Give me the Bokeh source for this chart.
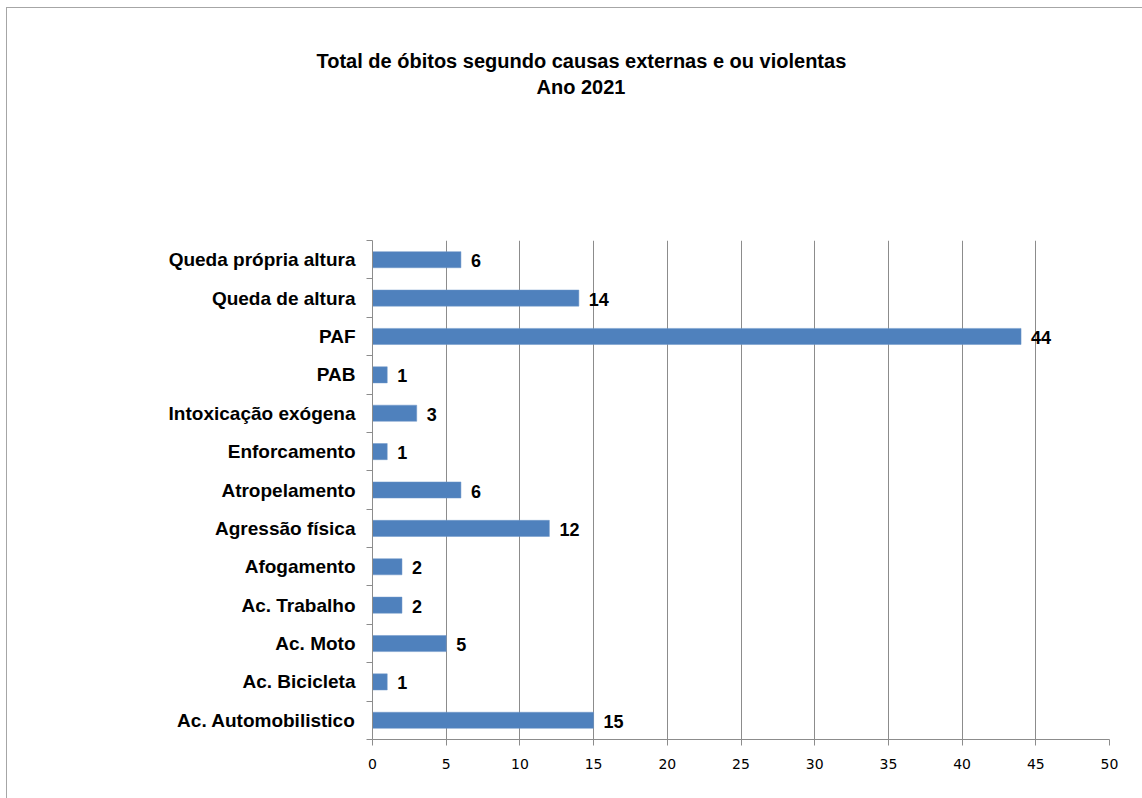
from bokeh.plotting import figure
from bokeh.models import ColumnDataSource, LabelSet, Title, FixedTicker
from bokeh.core.properties import value
from bokeh.embed import file_html
from bokeh.resources import INLINE

categories = ["Ac. Automobilistico", "Ac. Bicicleta", "Ac. Moto", "Ac. Trabalho",
              "Afogamento", "Agressão física", "Atropelamento", "Enforcamento",
              "Intoxicação exógena", "PAB", "PAF", "Queda de altura",
              "Queda própria altura"]
values = [15, 1, 5, 2, 2, 12, 6, 1, 3, 1, 44, 14, 6]
x_ticks = [0, 5, 10, 15, 20, 25, 30, 35, 40, 45, 50]
title_line1 = "Total de óbitos segundo causas externas e ou violentas"
title_line2 = "Ano 2021"

n = len(categories)
ypos = [i + 0.5 for i in range(n)]
src = ColumnDataSource(dict(y=ypos, v=values, lbl=[str(v) for v in values]))

W, H = 1136, 791
p = figure(width=W, height=H, output_backend="svg", toolbar_location=None,
           x_range=(0, 50), y_range=(0, n), title=None,
           min_border_left=365, min_border_right=34,
           min_border_top=232, min_border_bottom=60)
p.styles = {"margin-left": "6px", "margin-top": "7px",
            "border-left": "1px solid #a6a6a6", "border-top": "1px solid #a6a6a6",
            "box-sizing": "border-box"}
p.outline_line_color = None
p.background_fill_color = "white"
p.border_fill_color = "white"

p.hbar(y="y", right="v", left=0, height=0.42, source=src,
       fill_color="#4F81BD", line_color="#6f97c9", line_width=0.5)

labels = LabelSet(x="v", y="y", text="lbl", source=src, x_offset=10, y_offset=-1,
                  text_baseline="middle", text_align="left",
                  text_font=value("Liberation Sans"), text_font_style="bold",
                  text_font_size="18px", text_color="black")
p.add_layout(labels)

# grid
p.xgrid.ticker = FixedTicker(ticks=x_ticks)
p.xgrid.grid_line_color = "#8c8c8c"
p.xgrid.grid_line_width = 1
p.ygrid.grid_line_color = None

# x axis
p.xaxis.ticker = FixedTicker(ticks=x_ticks)
p.xaxis.axis_line_color = "#8c8c8c"
p.xaxis.major_tick_line_color = "#8c8c8c"
p.xaxis.major_tick_out = 6
p.xaxis.major_tick_in = 0
p.xaxis.minor_tick_line_color = None
p.xaxis.major_label_standoff = 13
p.xaxis.major_label_text_font = "DejaVu Sans"
p.xaxis.major_label_text_font_size = "14px"
p.xaxis.major_label_text_color = "black"

# y axis
p.yaxis.ticker = FixedTicker(ticks=ypos, minor_ticks=list(range(n + 1)))
p.yaxis.major_label_overrides = {y: c for y, c in zip(ypos, categories)}
p.yaxis.axis_line_color = "#8c8c8c"
p.yaxis.major_tick_line_color = None
p.yaxis.major_tick_out = 0
p.yaxis.major_tick_in = 0
p.yaxis.minor_tick_line_color = "#8c8c8c"
p.yaxis.minor_tick_out = 6
p.yaxis.minor_tick_in = 0
p.yaxis.major_label_standoff = 11
p.yaxis.major_label_text_font = "Liberation Sans"
p.yaxis.major_label_text_font_style = "bold"
p.yaxis.major_label_text_font_size = "19px"
p.yaxis.major_label_text_color = "black"

# titles (first added is nearest the frame)
p.add_layout(Title(text=" ", standoff=140, text_font_size="1px"), "above")
p.add_layout(Title(text=title_line2, align="left", offset=164, standoff=0,
                   text_font="Liberation Sans", text_font_style="bold",
                   text_font_size="20px", text_color="black"), "above")
p.add_layout(Title(text=title_line1, align="left", offset=-56, standoff=4,
                   text_font="Liberation Sans", text_font_style="bold",
                   text_font_size="20px", text_color="black"), "above")

open("out.html", "w").write(file_html(p, INLINE))
